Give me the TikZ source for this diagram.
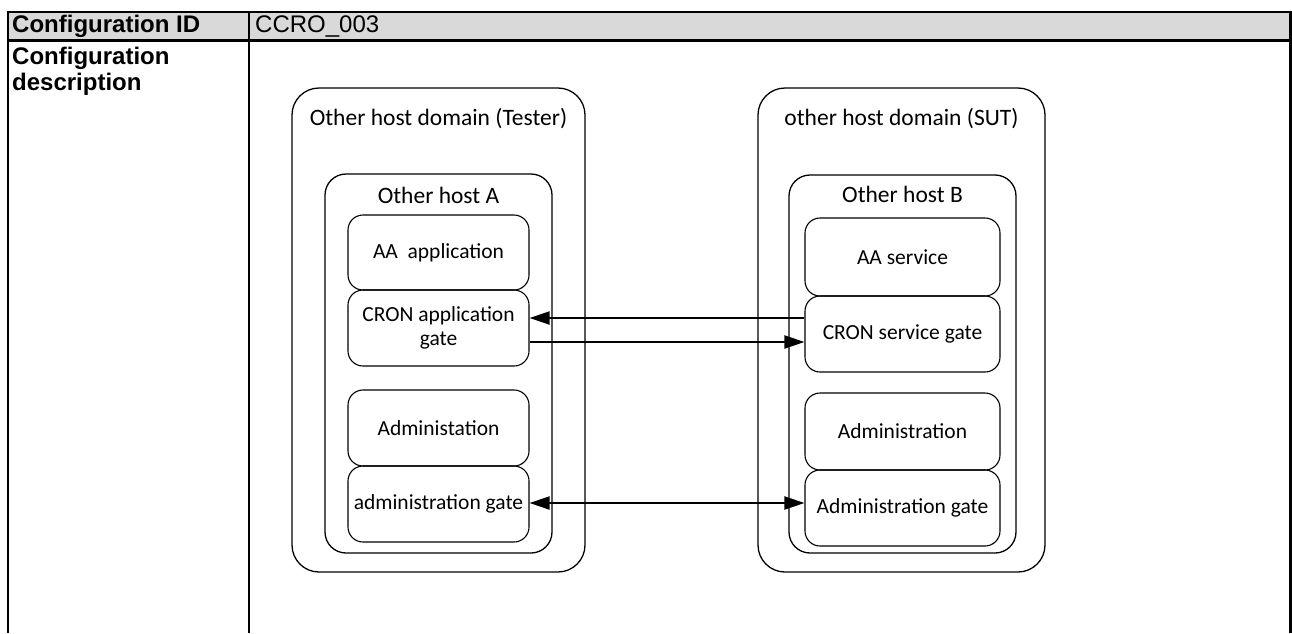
\documentclass[tikz,border=0pt]{standalone}
\usepackage{fontspec}
\setmainfont{Liberation Sans}
\newfontfamily\calib{Carlito}
\usetikzlibrary{arrows.meta}
\definecolor{hdrgray}{HTML}{D9D9D9}
\begin{document}
\begin{tikzpicture}[x=1pt,y=-1pt,
  tbl/.style={line width=2.4pt},
  hdrtext/.style={font=\fontsize{24}{26}\selectfont, anchor=base west, inner sep=0pt, align=left},
  domainbox/.style={draw, line width=1.3pt, rounded corners=27pt, inner sep=0pt},
  hostbox/.style={draw, line width=1.3pt, rounded corners=21pt, inner sep=0pt},
  compbox/.style={draw, line width=1.1pt, rounded corners=15pt, inner sep=0pt, align=center,
    font=\calib\fontsize{21.5}{24}\selectfont},
  lbl/.style={font=\calib\fontsize{23.5}{26}\selectfont, anchor=base, inner sep=0pt},
  arr/.style={line width=2pt, -{Triangle[length=20pt,width=13pt]}},
  dblarr/.style={line width=2pt, {Triangle[length=20pt,width=13pt]}-{Triangle[length=20pt,width=13pt]}}
]
\useasboundingbox (0,0) rectangle (1292,633);
% table
\fill[hdrgray] (8,12) rectangle (1290.5,40.5);
\draw[tbl] (8,633) -- (8,12) -- (1290.5,12) -- (1290.5,633);
\draw[tbl] (8,40.5) -- (1290.5,40.5);
\draw[tbl] (249,12) -- (249,633);
\node[hdrtext, font=\fontsize{24}{26}\selectfont\bfseries] (cfgid) at (12,32.5) {Configuration ID};
\node[hdrtext] (cfgval) at (255,32.5) {CCRO\_003};
\node[hdrtext, font=\fontsize{24}{26}\selectfont\bfseries] (cfgdesc) at (12,90) {Configuration\\description};

% domains
\node[domainbox, minimum width=293pt, minimum height=484pt] (domA) at (438.5,330) {};
\node[domainbox, minimum width=287pt, minimum height=484pt] (domB) at (901.5,330) {};
\node[lbl] (domAl) at ([yshift=-38pt]domA.north) {Other host domain (Tester)};
\node[lbl] (domBl) at ([yshift=-38.5pt]domB.north) {other host domain (SUT)};

% hosts
\node[hostbox, minimum width=227pt, minimum height=379pt] (hostA) at (438.5,363.5) {};
\node[hostbox, minimum width=227pt, minimum height=378pt] (hostB) at (902.5,364) {};
\node[lbl] (hostAl) at ([yshift=-30pt]hostA.north) {Other host A};
\node[lbl] (hostBl) at ([yshift=-28.5pt]hostB.north) {Other host B};

% components A
\node[compbox, minimum width=181pt, minimum height=75pt] (aaapp) at (438.5,252.5) {AA\ \ application};
\node[compbox, minimum width=181pt, minimum height=76pt] (cronapp) at (438.5,328) {CRON application\\gate};
\node[compbox, minimum width=181pt, minimum height=76pt] (admA) at (438.5,428) {Administation};
\node[compbox, minimum width=181pt, minimum height=76pt] (admgA) at (438.5,504) {administration gate};

% components B
\node[compbox, minimum width=195pt, minimum height=78pt] (aasvc) at (902.5,257) {AA service};
\node[compbox, minimum width=195pt, minimum height=76pt] (cronsvc) at (902.5,334) {CRON service gate};
\node[compbox, minimum width=195pt, minimum height=77pt] (admB) at (902.5,431.5) {Administration};
\node[compbox, minimum width=195pt, minimum height=76pt] (admgB) at (902.5,508) {Administration gate};

% connectors
\draw[arr] ([yshift=16pt]cronsvc.west) -- ([yshift=16pt]cronsvc.west -| cronapp.east);
\draw[arr] ([yshift=-8pt]cronsvc.west -| cronapp.east) -- ([yshift=-8pt]cronsvc.west);
\draw[dblarr] ([yshift=1pt]admgA.east) -- ([yshift=1pt]admgA.east -| admgB.west);
\end{tikzpicture}
\end{document}
